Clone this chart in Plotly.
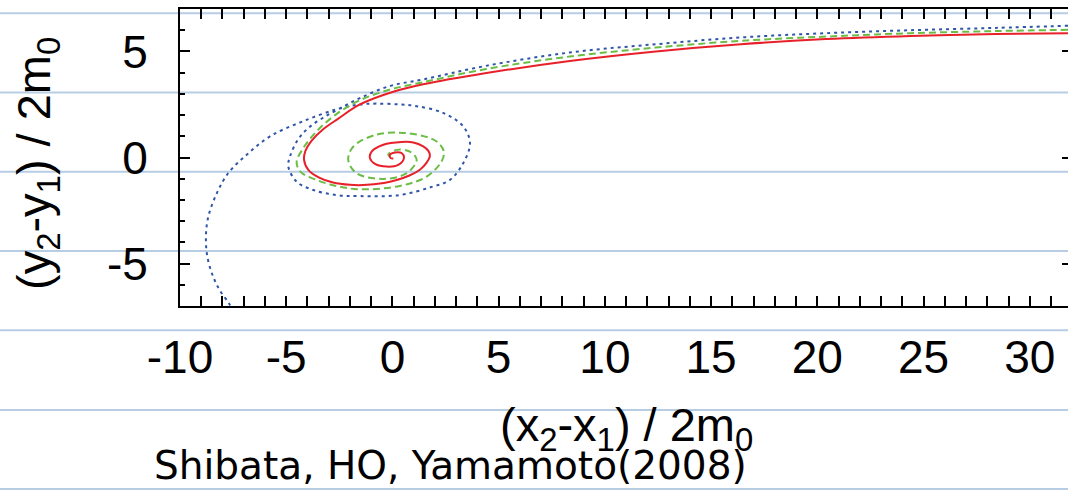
import plotly.graph_objects as go

# ---------------- data ----------------
red_x = [31.8, 28.4, 24.4, 20.4, 16.4, 12.4, 8.35, 4.35, 1.45, 0.04, -1.53, -2.55, -3.3, -3.8, -4.1, -4.16,
         -3.95, -3.45, -2.8, -2.0, -1.37, -0.4, 0.2, 0.8, 1.29, 1.6, 1.76, 1.7, 1.45, 0.98, 0.43, -0.43,
         -0.98, -1.06, -0.82, -0.27, 0.27, 0.54, 0.43, 0.12, -0.12, -0.08, 0.04]
red_y = [5.86, 5.82, 5.73, 5.58, 5.34, 5.0, 4.55, 3.97, 3.45, 3.1, 2.5, 1.83, 1.3, 0.8, 0.3, -0.11,
         -0.6, -0.95, -1.18, -1.29, -1.3, -1.2, -1.06, -0.85, -0.58, -0.25, 0.05, 0.3, 0.52, 0.71, 0.73, 0.6,
         0.28, -0.03, -0.3, -0.43, -0.35, -0.03, 0.21, 0.24, 0.13, -0.03, -0.05]

green_x = [31.8, 28.4, 24.4, 20.4, 16.4, 12.4, 8.35, 4.35, 1.45, -0.12, -1.53, -2.7, -3.6, -4.2, -4.51,
           -4.3, -3.57, -2.6, -1.53, 0.35, 1.61, 2.31, 2.42, 2.2, 1.76, 0.51, -0.75, -1.84, -2.08, -1.69,
           -0.43, 0.67, 1.14, 0.82, 0.2, -0.2, 0.01]
green_y = [6.02, 5.96, 5.86, 5.7, 5.5, 5.18, 4.76, 4.16, 3.55, 3.2, 2.7, 2.0, 1.2, 0.44, -0.23,
           -0.7, -1.06, -1.35, -1.5, -1.34, -0.9, -0.19, 0.28, 0.65, 0.92, 1.16, 1.08, 0.52, -0.11, -0.74,
           -1.01, -0.74, -0.11, 0.28, 0.36, 0.13, -0.04]

blue_x = [31.8, 28.4, 24.4, 20.4, 16.4, 12.4, 8.35, 4.35, 1.45, -0.12, -1.53, -2.5, -3.3, -3.95, -4.45,
          -4.82, -4.9, -4.51, -3.73, -2.63, -1.53, 0.35, 1.8, 2.7, 3.33, 3.65, 3.33, 2.39, 1.14, 0.35,
          -0.75, -1.53, -2.63, -4.2, -5.76, -6.86, -7.73, -8.27, -8.67, -8.78, -8.71, -8.43, -8.12, -7.68, -7.5]
blue_y = [6.21, 6.11, 6.0, 5.86, 5.66, 5.34, 4.95, 4.31, 3.68, 3.37, 2.8, 2.3, 1.85, 1.4, 0.84,
          0.05, -0.43, -1.14, -1.53, -1.77, -1.82, -1.77, -1.4, -1.06, -0.27, 0.68, 1.47, 2.1, 2.42, 2.5,
          2.54, 2.5, 2.27, 1.71, 1.0, 0.13, -0.74, -1.69, -2.8, -3.74, -4.69, -5.64, -6.27, -6.9, -7.3]

x_range = [-10, 31.8]
y_range = [-7, 7]
x_ticks = [-10, -5, 0, 5, 10, 15, 20, 25, 30]
y_ticks = [-5, 0, 5]

x_title = "(x<sub>2</sub>-x<sub>1</sub>) / 2m<sub>0</sub>"
y_title = "(y<sub>2</sub>-y<sub>1</sub>) / 2m<sub>0</sub>"
credit = "Shibata, HO, Yamamoto(2008)"

# ---------------- layout constants ----------------
W, H = 1068, 491
ML, MT, MB, MR = 180, 9, 185, 0
PW, PH = W - ML - MR, H - MT - MB


def px2paper_x(px):
    return (px - ML) / PW


def px2paper_y(py):
    return (H - MB - py) / PH


notebook_rows_px = [13.3, 92.5, 171.7, 251, 330.3, 410, 489]

fig = go.Figure()
fig.add_trace(go.Scatter(x=blue_x, y=blue_y, mode="lines",
                         line=dict(color="#2f55a8", width=2, dash="3px,4px", shape="spline", smoothing=1.0)))
fig.add_trace(go.Scatter(x=green_x, y=green_y, mode="lines",
                         line=dict(color="#6cbd45", width=2, dash="7px,4px", shape="spline", smoothing=1.0)))
fig.add_trace(go.Scatter(x=red_x, y=red_y, mode="lines",
                         line=dict(color="#e8202a", width=2, shape="spline", smoothing=1.0)))
# right-hand tick marks (no visible right frame line)
fig.add_trace(go.Scatter(x=[None], y=[None], yaxis="y2", showlegend=False))

for py in notebook_rows_px:
    fig.add_shape(type="line", xref="paper", yref="paper",
                  x0=px2paper_x(0), x1=px2paper_x(W), y0=px2paper_y(py), y1=px2paper_y(py),
                  line=dict(color="#b7cde4", width=2), layer="below")

tickfont = dict(family="Liberation Sans, Arial, sans-serif", size=46, color="black")

fig.update_layout(
    width=W, height=H,
    margin=dict(l=ML, r=MR, t=MT, b=MB, pad=0),
    paper_bgcolor="white", plot_bgcolor="rgba(0,0,0,0)",
    showlegend=False,
    xaxis=dict(range=x_range, tickvals=x_ticks, ticktext=[str(v) for v in x_ticks],
               showgrid=False, zeroline=False, showline=True, linecolor="black", linewidth=2,
               mirror="allticks", ticks="inside", ticklen=10, tickwidth=1.5, tickcolor="black",
               minor=dict(dtick=1, ticks="inside", ticklen=5, tickwidth=1.5, tickcolor="black", showgrid=False),
               tickfont=tickfont, ticklabelstandoff=10),
    yaxis=dict(range=y_range, tickvals=y_ticks, ticktext=[str(v) for v in y_ticks],
               showgrid=False, zeroline=False, showline=True, linecolor="black", linewidth=2,
               mirror=False, ticks="inside", ticklen=10, tickwidth=1.5, tickcolor="black",
               minor=dict(dtick=1, ticks="inside", ticklen=5, tickwidth=1.5, tickcolor="black", showgrid=False),
               tickfont=tickfont, ticklabelstandoff=21),
    yaxis2=dict(range=y_range, overlaying="y", side="right", anchor="x", tickvals=y_ticks,
                showticklabels=False, showgrid=False, zeroline=False, showline=False,
                ticks="inside", ticklen=6, tickwidth=1.5, tickcolor="black"),
    annotations=[
        dict(text=x_title, xref="paper", yref="paper", x=px2paper_x(626), y=px2paper_y(428),
             xanchor="center", yanchor="middle", showarrow=False,
             font=dict(family="Liberation Sans, Arial, sans-serif", size=47, color="black")),
        dict(text=y_title, xref="paper", yref="paper", x=px2paper_x(37), y=px2paper_y(164),
             xanchor="center", yanchor="middle", showarrow=False, textangle=-90,
             font=dict(family="Liberation Sans, Arial, sans-serif", size=47, color="black")),
        dict(text=credit, xref="paper", yref="paper", x=px2paper_x(152), y=px2paper_y(465),
             xanchor="left", yanchor="middle", showarrow=False,
             font=dict(family="DejaVu Sans, sans-serif", size=39, color="black")),
    ],
)

fig.write_html("out.html")
